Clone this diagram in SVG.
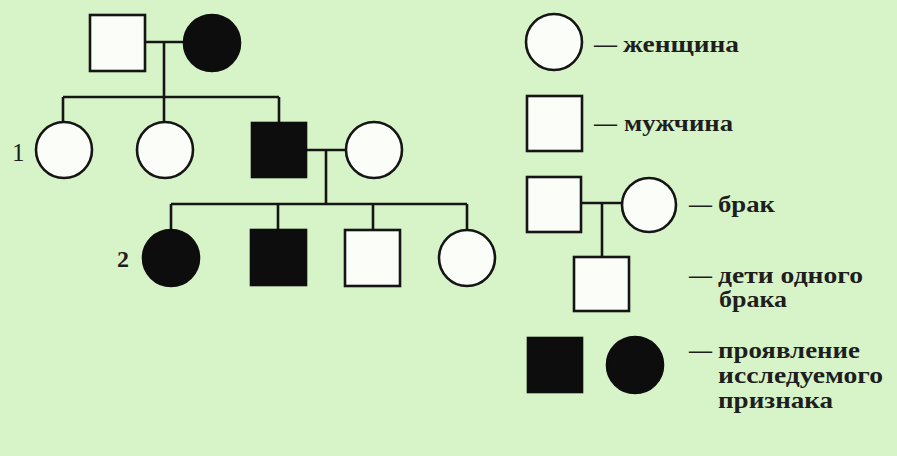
<svg xmlns="http://www.w3.org/2000/svg" width="897" height="456" viewBox="0 0 897 456">
<style>
.o{fill:#fbfdf8;stroke:#151515;stroke-width:2.6}
.f{fill:#0d0d0d;stroke:#0d0d0d;stroke-width:2.6}
.c{fill:none;stroke:#151515;stroke-width:2.6}
.t{font-family:"Liberation Serif","Times New Roman",serif;font-weight:bold;font-size:23px;fill:#1e1e1e}
</style>
<rect width="897" height="456" fill="#d7f4c8"/>
<g id="connectors">
<path class="c" d="M145 42H183M164 42V97M63 97H279M63 97V123M164 97V123M279 97V123"/>
<path class="c" d="M306 150H346M326 150V204M171 204H467M171 204V230M278 204V230M373 204V230M467 204V230"/>
<path class="c" d="M581 203H622M602 203V257"/>
</g>
<g id="gen1-father"><rect class="o" x="90" y="15" width="55" height="56"/></g>
<g id="gen1-mother"><circle class="f" cx="212" cy="43" r="28"/></g>
<g id="gen2-daughter1"><circle class="o" cx="64" cy="150" r="28"/></g>
<g id="gen2-daughter2"><circle class="o" cx="165" cy="150" r="28"/></g>
<g id="gen2-son"><rect class="f" x="252" y="123" width="54" height="54"/></g>
<g id="gen2-wife"><circle class="o" cx="374" cy="150" r="28"/></g>
<g id="gen3-daughter1"><circle class="f" cx="171" cy="258" r="28"/></g>
<g id="gen3-son1"><rect class="f" x="251" y="230" width="55" height="55"/></g>
<g id="gen3-son2"><rect class="o" x="345" y="230" width="55" height="56"/></g>
<g id="gen3-daughter2"><circle class="o" cx="467" cy="258" r="28"/></g>
<g id="labels">
<text class="t" x="12" y="161" style="font-size:25px;font-weight:normal">1</text>
<text class="t" x="117" y="267" style="font-size:24px">2</text>
</g>
<g id="legend-woman"><circle class="o" cx="554" cy="42" r="28"/>
<text class="t" x="594" y="52">—<tspan x="623" textLength="116" lengthAdjust="spacingAndGlyphs">женщина</tspan></text></g>
<g id="legend-man"><rect class="o" x="527" y="96" width="55" height="55"/>
<text class="t" x="594" y="131">—<tspan x="624" textLength="109" lengthAdjust="spacingAndGlyphs">мужчина</tspan></text></g>
<g id="legend-marriage"><rect class="o" x="527" y="177" width="54" height="55"/><circle class="o" cx="649" cy="205" r="27"/>
<text class="t" x="689" y="212">—<tspan x="718" textLength="57" lengthAdjust="spacingAndGlyphs">брак</tspan></text></g>
<g id="legend-children"><rect class="o" x="574" y="257" width="55" height="54"/>
<text class="t" x="689" y="283">—<tspan x="718" textLength="145" lengthAdjust="spacingAndGlyphs">дети одного</tspan></text>
<text class="t" x="719" y="307" textLength="68" lengthAdjust="spacingAndGlyphs">брака</text></g>
<g id="legend-affected"><rect class="f" x="528" y="338" width="54" height="54"/><circle class="f" cx="635" cy="365" r="28"/>
<text class="t" x="689" y="358">—<tspan x="718" textLength="142" lengthAdjust="spacingAndGlyphs">проявление</tspan></text>
<text class="t" x="718" y="383" textLength="165" lengthAdjust="spacingAndGlyphs">исследуемого</text>
<text class="t" x="718" y="408" textLength="115" lengthAdjust="spacingAndGlyphs">признака</text></g>
</svg>
